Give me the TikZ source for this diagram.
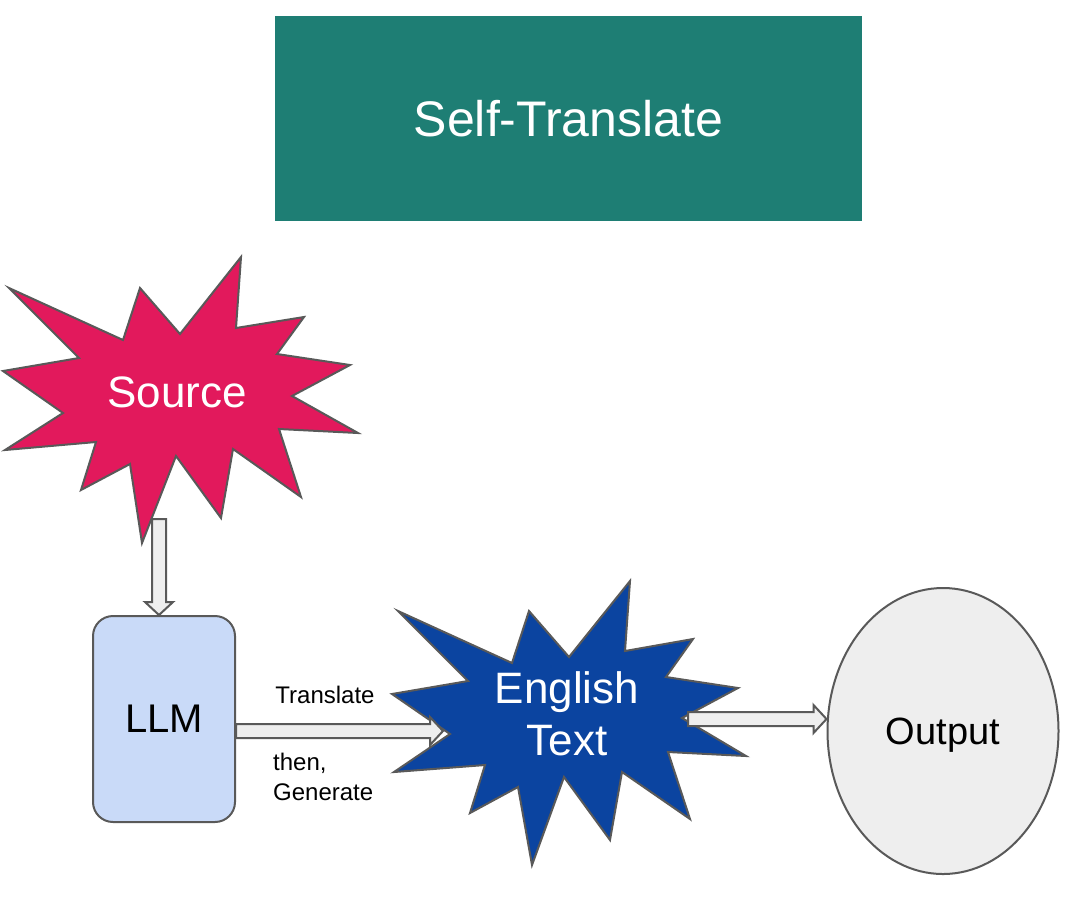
\documentclass[tikz,border=0pt]{standalone}
\usepackage{fontspec}
\setmainfont{Liberation Sans}
\usetikzlibrary{calc,positioning,shapes.geometric}

\definecolor{titleteal}{HTML}{1E7E74}
\definecolor{burstred}{HTML}{E2195C}
\definecolor{burstblue}{HTML}{0B44A0}
\definecolor{llmblue}{HTML}{C9DAF8}
\definecolor{palegray}{HTML}{EEEEEE}
\definecolor{edgegray}{HTML}{595959}

\tikzset{
 burst/.style={draw=edgegray,line width=2pt,line join=miter,miter limit=25},
 burst text/.style={text=white,font=\fontsize{44}{52}\selectfont,align=center},
 fat arrow/.style={draw=edgegray,fill=palegray,line width=2pt,
  to path={($(\tikztostart)!7pt!90:(\tikztotarget)$)
   -- ($($(\tikztotarget)!13pt!(\tikztostart)$)!7pt!90:(\tikztotarget)$)
   -- ($($(\tikztotarget)!13pt!(\tikztostart)$)!14pt!90:(\tikztotarget)$)
   -- (\tikztotarget)
   -- ($($(\tikztotarget)!13pt!(\tikztostart)$)!14pt!-90:(\tikztotarget)$)
   -- ($($(\tikztotarget)!13pt!(\tikztostart)$)!7pt!-90:(\tikztotarget)$)
   -- ($(\tikztostart)!7pt!-90:(\tikztotarget)$) -- cycle}},
 small label/.style={font=\fontsize{24}{30}\selectfont,inner sep=0pt}
}

\begin{document}
\begin{tikzpicture}[x=1pt,y=-1pt]
 \useasboundingbox (0,0) rectangle (1067,898);

 % title banner
 \node[fill=titleteal,text=white,minimum width=587pt,minimum height=205pt,
  font=\fontsize{50}{60}\selectfont] (title) at (568.5,118.5) {Self-Translate};

 % source burst
 \draw[burst,fill=burstred] (9,288) -- (123,340) -- (140,288) -- (180,334)
  -- (241,257) -- (236,328) -- (304,317) -- (277,354) -- (350,365)
  -- (292,396) -- (358,433) -- (279,429) -- (301,497) -- (233,449)
  -- (221,518) -- (176,456) -- (142,543) -- (130,464) -- (81,490)
  -- (96,442) -- (5,450) -- (63,413) -- (3,371) -- (79,358) -- cycle;
 \node[burst text] (src) at (177,392) {Source};

 % english burst
 \draw[burst,fill=burstblue] (398,611) -- (512,663) -- (529,611) -- (569,657)
  -- (630,581) -- (625,651) -- (693,639) -- (666,677) -- (738,688)
  -- (682,718) -- (746,756) -- (668,752) -- (690,819) -- (622,772)
  -- (610,840) -- (564,777) -- (532,865) -- (518,787) -- (470,813)
  -- (485,765) -- (394,772) -- (450,734) -- (392,694) -- (468,681) -- cycle;
 \node[burst text] (eng) at (567,714) {English\\Text};

 \node[draw=edgegray,line width=2pt,fill=llmblue,rounded corners=20pt,
  minimum width=142pt,minimum height=206pt,
  font=\fontsize{40}{48}\selectfont] (llm) at (164,719) {LLM};
 \node[draw=edgegray,line width=2pt,fill=palegray,ellipse,
  minimum width=231pt,minimum height=286pt,inner sep=0pt,text depth=0pt,
  font=\fontsize{38}{46}\selectfont] (out) at (943,731) {Output};

 \coordinate (src-foot) at (159,519);
 \coordinate (eng-in) at (443,731);
 \coordinate (eng-out) at (688,719);

 \draw[fat arrow] (src-foot) to (src-foot |- llm.north);
 \draw[fat arrow] (llm.east |- eng-in) to (eng-in);
 \draw[fat arrow] (eng-out) to (eng-out -| out.west);

 \node[small label,anchor=base] (trans) at (325,703) {Translate};
 \node[small label,anchor=base west,align=left] (gen) at (273,770) {then,};
 \node[small label,anchor=base west] (gen2) at (273,800) {Generate};
\end{tikzpicture}
\end{document}
